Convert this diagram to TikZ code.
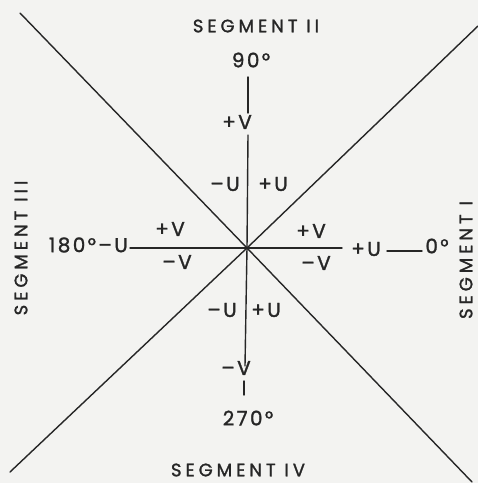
\documentclass[tikz,border=0pt]{standalone}
\usepackage{fontspec}
\setmainfont[LetterSpace=12,FakeBold=1.4]{Poppins}
\newfontfamily\segfont[LetterSpace=22,FakeBold=1.4]{Poppins}
\definecolor{paper}{HTML}{F3F3F1}
\definecolor{ink}{HTML}{262626}
\begin{document}
\begin{tikzpicture}[x=1pt,y=-1pt,
  lbl/.style={inner sep=0pt,text=ink,font=\fontsize{20}{20}\selectfont},
  seg/.style={inner sep=0pt,text=ink,font=\segfont\fontsize{18}{18}\selectfont},
  ln/.style={draw=ink,line width=1.4pt,line cap=round}]
\fill[paper] (0,0) rectangle (478,483);
\useasboundingbox (0,0) rectangle (478,483);
% centre and line ends
\coordinate (O) at (247,248);
\coordinate (NW) at (20,13);
\coordinate (SE) at (472,482);
\coordinate (NE) at (478,26);
\coordinate (SW) at (10,472);
\coordinate (Lh) at (130,248);
\coordinate (Rh) at (342,248);
\coordinate (Tv) at (248,135);
\coordinate (Bv) at (245,366);
% labels
\node[seg] (s2) at (256,26) {SEGMENT II};
\node[seg] (s4) at (238,470) {SEGMENT IV};
\node[seg,rotate=90] (s3) at (21,248) {SEGMENT III};
\node[seg,rotate=90] (s1) at (466,260) {SEGMENT I};
\node[lbl] (a90) at (251,60) {90°};
\node[lbl] (a270) at (248,418) {270°};
\node[lbl,anchor=east] (a180) at (128,245) {180°–U};
\node[lbl] (a0) at (437,246) {0°};
\node[lbl] (tv) at (237,122) {+V};
\node[lbl] (bv) at (236,368) {–V};
\node[lbl] (ulm) at (225,184) {–U};
\node[lbl] (ulp) at (273,184) {+U};
\node[lbl] (dlm) at (222,310) {–U};
\node[lbl] (dlp) at (266,310) {+U};
\node[lbl] (lvp) at (170,229) {+V};
\node[lbl] (lvm) at (177,262) {–V};
\node[lbl] (rvp) at (311,231) {+V};
\node[lbl] (rvm) at (316,263) {–V};
\node[lbl] (rup) at (366,249) {+U};
% short stubs
\coordinate (t1) at (248,77);
\coordinate (t2) at (248,113);
\coordinate (b1) at (244,381);
\coordinate (b2) at (244,395);
\coordinate (r1) at (387,251);
\coordinate (r2) at (422,251);
% lines
\draw[ln] (NW) -- (O) -- (SE);
\draw[ln] (NE) -- (O) -- (SW);
\draw[ln] (Lh) -- (O) -- (Rh);
\draw[ln] (Tv) -- (O) -- (Bv);
\draw[ln] (t1) -- (t2);
\draw[ln] (b1) -- (b2);
\draw[ln] (r1) -- (r2);
\end{tikzpicture}
\end{document}
